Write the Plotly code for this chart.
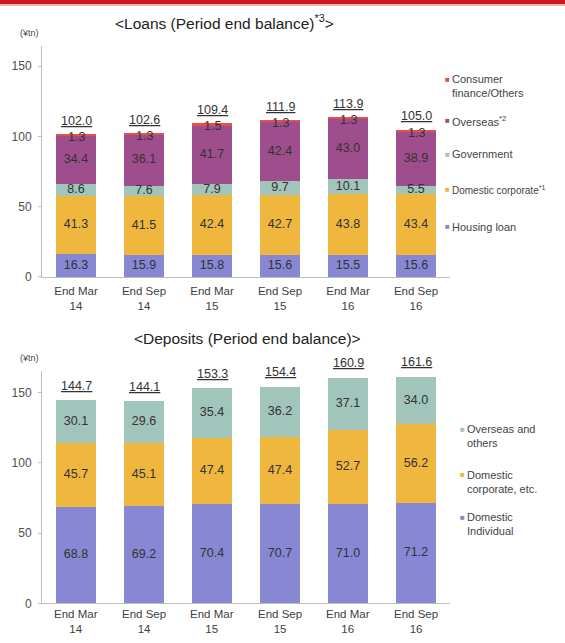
import numpy as np
import plotly.graph_objects as go

W, H = 565, 643

# Period labels shared by both panels
periods = ["End Mar<br>14", "End Sep<br>14", "End Mar<br>15",
           "End Sep<br>15", "End Mar<br>16", "End Sep<br>16"]

# Loans (period end balance), trillion yen
loan_housing = [16.3, 15.9, 15.8, 15.6, 15.5, 15.6]
loan_domestic_corp = [41.3, 41.5, 42.4, 42.7, 43.8, 43.4]
loan_government = [8.6, 7.6, 7.9, 9.7, 10.1, 5.5]
loan_overseas = [34.4, 36.1, 41.7, 42.4, 43.0, 38.9]
loan_consumer = [1.3, 1.3, 1.5, 1.3, 1.3, 1.3]
loan_totals = [102.0, 102.6, 109.4, 111.9, 113.9, 105.0]

# Deposits (period end balance), trillion yen
dep_individual = [68.8, 69.2, 70.4, 70.7, 71.0, 71.2]
dep_corporate = [45.7, 45.1, 47.4, 47.4, 52.7, 56.2]
dep_overseas = [30.1, 29.6, 35.4, 36.2, 37.1, 34.0]
dep_totals = [144.7, 144.1, 153.3, 154.4, 160.9, 161.6]

C_HOUSING = "#8787D4"
C_CORP = "#EFB73E"
C_GOV = "#A1C4BB"
C_OVERSEAS = "#9E4E8D"
C_CONSUMER = "#E5504C"

FONT = "Liberation Sans, Arial, sans-serif"
TXT = "#333333"


def px_x(x):
    return x / W


def px_y(y):
    return 1 - y / H


fig = go.Figure()
annotations = []


def add_stack(series, xa, ya):
    base = np.zeros(len(periods))
    for name, vals, color, show_lbl in series:
        vals = np.array(vals, dtype=float)
        fig.add_trace(go.Bar(x=periods, y=vals, name=name, marker_color=color,
                             marker_line_width=0, xaxis=xa, yaxis=ya,
                             showlegend=False, hoverinfo="x+y+name"))
        if show_lbl:
            fig.add_trace(go.Scatter(x=periods, y=base + vals / 2, mode="text",
                                     text=[f"{v:.1f}" for v in vals],
                                     textfont=dict(family=FONT, size=12.5, color=TXT),
                                     xaxis=xa, yaxis=ya, showlegend=False,
                                     hoverinfo="skip"))
        base = base + vals
    return base


loan_series = [
    ("Housing loan", loan_housing, C_HOUSING, True),
    ("Domestic corporate*1", loan_domestic_corp, C_CORP, True),
    ("Government", loan_government, C_GOV, True),
    ("Overseas*2", loan_overseas, C_OVERSEAS, True),
    ("Consumer finance/Others", loan_consumer, C_CONSUMER, False),
]
loan_top = add_stack(loan_series, "x", "y")

# consumer finance values sit just under the top edge of each stack
for p, v, top in zip(periods, loan_consumer, loan_top):
    annotations.append(dict(x=p, y=top, xref="x", yref="y", text=f"{v:.1f}",
                            showarrow=False, xanchor="center", yanchor="middle",
                            yshift=-3,
                            font=dict(family=FONT, size=12.5, color=TXT)))
for p, t in zip(periods, loan_totals):
    annotations.append(dict(x=p, y=t, xref="x", yref="y", text=f"<u>{t:.1f}</u>",
                            showarrow=False, xanchor="center", yanchor="bottom",
                            yshift=4,
                            font=dict(family=FONT, size=12.5, color=TXT)))

dep_series = [
    ("Domestic Individual", dep_individual, C_HOUSING, True),
    ("Domestic corporate, etc.", dep_corporate, C_CORP, True),
    ("Overseas and others", dep_overseas, C_GOV, True),
]
add_stack(dep_series, "x2", "y2")
for p, t in zip(periods, dep_totals):
    annotations.append(dict(x=p, y=t, xref="x2", yref="y2", text=f"<u>{t:.1f}</u>",
                            showarrow=False, xanchor="center", yanchor="bottom",
                            yshift=5,
                            font=dict(family=FONT, size=12.5, color=TXT)))

# lower panel period labels, pinned to the bottom edge of the page
for p in periods:
    annotations.append(dict(x=p, y=0, xref="x2", yref="paper", text=p,
                            showarrow=False, xanchor="center", yanchor="bottom",
                            yshift=0, borderpad=0,
                            font=dict(family=FONT, size=11.5, color="#404040")))

# panel titles and unit labels
annotations += [
    dict(x=px_x(224), y=px_y(22), xref="paper", yref="paper",
         text="&lt;Loans (Period end balance)<sup>*3</sup>&gt;", showarrow=False,
         xanchor="center", yanchor="middle",
         font=dict(family=FONT, size=15.5, color="#222222")),
    dict(x=px_x(247), y=px_y(342), xref="paper", yref="paper",
         text="&lt;Deposits (Period end balance)&gt;", showarrow=False,
         xanchor="center", yanchor="middle",
         font=dict(family=FONT, size=15.5, color="#222222")),
    dict(x=px_x(29), y=px_y(33), xref="paper", yref="paper", text="(¥tn)",
         showarrow=False, xanchor="center", yanchor="middle",
         font=dict(family=FONT, size=9, color="#444444")),
    dict(x=px_x(29), y=px_y(362), xref="paper", yref="paper", text="(¥tn)",
         showarrow=False, xanchor="center", yanchor="middle",
         font=dict(family=FONT, size=9, color="#444444")),
]

# legend keys: (label, colour, centre of first line in px, line count, font size)
loan_keys = [
    ("Consumer<br>finance/Others", C_CONSUMER, 80, 2, 11),
    ("Overseas<sup>*2</sup>", C_OVERSEAS, 122, 1, 11),
    ("Government", C_GOV, 156, 1, 11),
    ("Domestic corporate<sup>*1</sup>", C_CORP, 192, 1, 10),
    ("Housing loan", C_HOUSING, 229, 1, 11),
]
dep_keys = [
    ("Overseas and<br>others", C_GOV, 434, 2, 11),
    ("Domestic<br>corporate, etc.", C_CORP, 480, 2, 11),
    ("Domestic<br>Individual", C_HOUSING, 523, 2, 11),
]


def add_keys(keys, mx, tx):
    for label, color, y, nlines, size in keys:
        annotations.append(dict(x=px_x(mx), y=px_y(y), xref="paper", yref="paper",
                                text="■", showarrow=False, xanchor="center",
                                yanchor="middle",
                                font=dict(family=FONT, size=8, color=color)))
        yc = y + (nlines - 1) * 14 / 2
        annotations.append(dict(x=px_x(tx), y=px_y(yc), xref="paper", yref="paper",
                                text=label, showarrow=False, xanchor="left",
                                yanchor="middle", align="left", borderpad=0,
                                font=dict(family=FONT, size=size, color="#444444")))


add_keys(loan_keys, 447, 451)
add_keys(dep_keys, 462, 466)

axis_common = dict(showline=True, linecolor="#BFBFBF", linewidth=1,
                   showgrid=False, zeroline=False)
xcommon = dict(axis_common, type="category", range=[-0.5, 5.5], ticks="",
               tickfont=dict(family=FONT, size=11.5, color="#404040"))
ycommon = dict(axis_common, dtick=50, tick0=0, ticks="outside", ticklen=3,
               tickcolor="#BFBFBF", ticklabelstandoff=4,
               tickfont=dict(family=FONT, size=12, color="#505050"))

fig.update_layout(
    width=W, height=H, autosize=False,
    margin=dict(l=0, r=0, t=0, b=0),
    paper_bgcolor="white", plot_bgcolor="white",
    barmode="stack", bargap=0.4,
    showlegend=False,
    xaxis=dict(xcommon, domain=[px_x(42), px_x(450)], anchor="y",
               ticklabelstandoff=3),
    yaxis=dict(ycommon, domain=[px_y(280), px_y(47)], anchor="x",
               range=[0, 233 / 1.42]),
    xaxis2=dict(xcommon, domain=[px_x(42), px_x(450)], anchor="y2",
                showticklabels=False),
    yaxis2=dict(ycommon, domain=[px_y(610), px_y(375)], anchor="x2",
                range=[0, 235 / 1.42]),
    annotations=annotations,
    shapes=[
        dict(type="rect", xref="paper", yref="paper", x0=0, x1=1,
             y0=px_y(4), y1=1, fillcolor="#D2161E", line_width=0),
        dict(type="rect", xref="paper", yref="paper", x0=0, x1=1,
             y0=px_y(6), y1=px_y(4), fillcolor="#EDB3B5", line_width=0),
    ],
)

fig.write_html("out.html")
